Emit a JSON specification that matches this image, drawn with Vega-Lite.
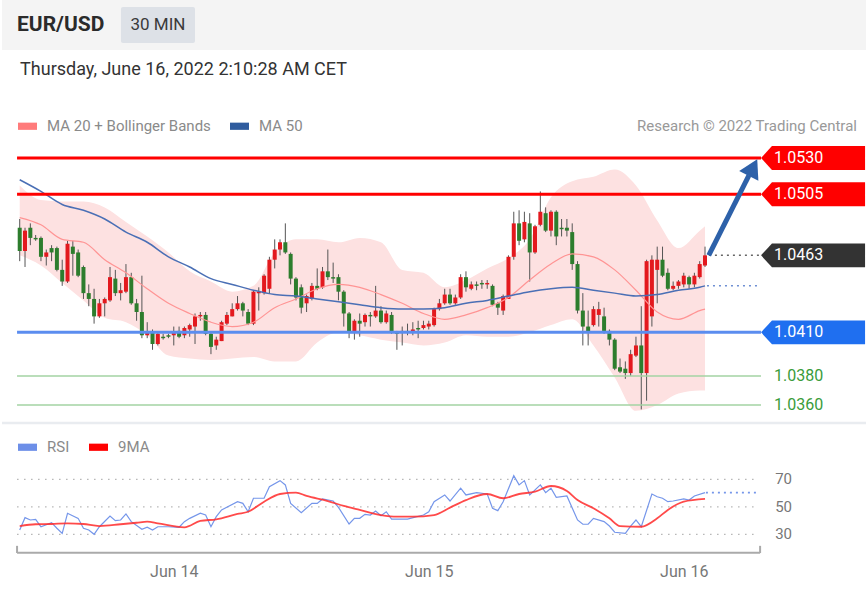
{
  "$schema": "https://vega.github.io/schema/vega-lite/v6.json",
  "padding": 0,
  "spacing": 0,
  "background": "#ffffff",
  "resolve": {"scale": {"fill": "independent"}, "legend": {"fill": "independent"}},
  "config": {
    "font": "Roboto",
    "view": {"stroke": null},
    "scale": {"continuousPadding": 0},
    "legend": {"orient": "none", "direction": "horizontal", "title": null, "symbolType": "M-1,-0.38H1V0.38H-1Z", "symbolSize": 361, "symbolStrokeWidth": 0, "labelFontSize": 15, "labelColor": "#8a8a8a", "labelFont": "Roboto", "labelOffset": 10, "labelLimit": 0, "columnPadding": 19, "padding": 0, "symbolOpacity": 1}
  },
  "datasets": {
    "candles": [
      {"t":"2022-06-13T09:30Z","o":1.0482,"h":1.0488,"l":1.0459,"c":1.0466},
      {"t":"2022-06-13T10:00Z","o":1.0466,"h":1.0482,"l":1.0455,"c":1.0480},
      {"t":"2022-06-13T10:30Z","o":1.0482,"h":1.0485,"l":1.0470,"c":1.0475},
      {"t":"2022-06-13T11:00Z","o":1.0475,"h":1.0477,"l":1.0473,"c":1.0474},
      {"t":"2022-06-13T11:30Z","o":1.0475,"h":1.0476,"l":1.0459,"c":1.0462},
      {"t":"2022-06-13T12:00Z","o":1.0462,"h":1.0467,"l":1.0456,"c":1.0465},
      {"t":"2022-06-13T12:30Z","o":1.0468,"h":1.0470,"l":1.0459,"c":1.0465},
      {"t":"2022-06-13T13:00Z","o":1.0468,"h":1.0469,"l":1.0452,"c":1.0453},
      {"t":"2022-06-13T13:30Z","o":1.0453,"h":1.0460,"l":1.0442,"c":1.0445},
      {"t":"2022-06-13T14:00Z","o":1.0445,"h":1.0473,"l":1.0444,"c":1.0471},
      {"t":"2022-06-13T14:30Z","o":1.0469,"h":1.0473,"l":1.0449,"c":1.0464},
      {"t":"2022-06-13T15:00Z","o":1.0465,"h":1.0467,"l":1.0448,"c":1.0449},
      {"t":"2022-06-13T15:30Z","o":1.0455,"h":1.0456,"l":1.0433,"c":1.0437},
      {"t":"2022-06-13T16:00Z","o":1.0437,"h":1.0443,"l":1.0428,"c":1.0433},
      {"t":"2022-06-13T16:30Z","o":1.0433,"h":1.0440,"l":1.0416,"c":1.0421},
      {"t":"2022-06-13T17:00Z","o":1.0421,"h":1.0433,"l":1.0420,"c":1.0430},
      {"t":"2022-06-13T17:30Z","o":1.0430,"h":1.0434,"l":1.0421,"c":1.0433},
      {"t":"2022-06-13T18:00Z","o":1.0432,"h":1.0455,"l":1.0431,"c":1.0448},
      {"t":"2022-06-13T18:30Z","o":1.0447,"h":1.0453,"l":1.0435,"c":1.0437},
      {"t":"2022-06-13T19:00Z","o":1.0437,"h":1.0444,"l":1.0432,"c":1.0439},
      {"t":"2022-06-13T19:30Z","o":1.0438,"h":1.0457,"l":1.0437,"c":1.0448},
      {"t":"2022-06-13T20:00Z","o":1.0448,"h":1.0451,"l":1.0429,"c":1.0430},
      {"t":"2022-06-13T20:30Z","o":1.0430,"h":1.0433,"l":1.0418,"c":1.0424},
      {"t":"2022-06-13T21:00Z","o":1.0424,"h":1.0449,"l":1.0406,"c":1.0408},
      {"t":"2022-06-13T21:30Z","o":1.0408,"h":1.0417,"l":1.0406,"c":1.0410},
      {"t":"2022-06-13T22:00Z","o":1.0410,"h":1.0412,"l":1.0398,"c":1.0402},
      {"t":"2022-06-13T22:30Z","o":1.0402,"h":1.0410,"l":1.0401,"c":1.0409},
      {"t":"2022-06-13T23:00Z","o":1.0407,"h":1.0409,"l":1.0405,"c":1.0406},
      {"t":"2022-06-13T23:30Z","o":1.0408,"h":1.0409,"l":1.0406,"c":1.0407},
      {"t":"2022-06-14T00:00Z","o":1.0408,"h":1.0414,"l":1.0401,"c":1.0410},
      {"t":"2022-06-14T00:30Z","o":1.0411,"h":1.0414,"l":1.0406,"c":1.0407},
      {"t":"2022-06-14T01:00Z","o":1.0408,"h":1.0414,"l":1.0406,"c":1.0413},
      {"t":"2022-06-14T01:30Z","o":1.0412,"h":1.0416,"l":1.0407,"c":1.0415},
      {"t":"2022-06-14T02:00Z","o":1.0414,"h":1.0423,"l":1.0402,"c":1.0421},
      {"t":"2022-06-14T02:30Z","o":1.0421,"h":1.0424,"l":1.0418,"c":1.0422},
      {"t":"2022-06-14T03:00Z","o":1.0422,"h":1.0424,"l":1.0408,"c":1.0409},
      {"t":"2022-06-14T03:30Z","o":1.0409,"h":1.0410,"l":1.0395,"c":1.0400},
      {"t":"2022-06-14T04:00Z","o":1.0401,"h":1.0407,"l":1.0398,"c":1.0405},
      {"t":"2022-06-14T04:30Z","o":1.0404,"h":1.0418,"l":1.0404,"c":1.0417},
      {"t":"2022-06-14T05:00Z","o":1.0416,"h":1.0424,"l":1.0415,"c":1.0422},
      {"t":"2022-06-14T05:30Z","o":1.0421,"h":1.0430,"l":1.0421,"c":1.0426},
      {"t":"2022-06-14T06:00Z","o":1.0426,"h":1.0435,"l":1.0425,"c":1.0430},
      {"t":"2022-06-14T06:30Z","o":1.0430,"h":1.0431,"l":1.0421,"c":1.0425},
      {"t":"2022-06-14T07:00Z","o":1.0424,"h":1.0426,"l":1.0415,"c":1.0416},
      {"t":"2022-06-14T07:30Z","o":1.0416,"h":1.0439,"l":1.0415,"c":1.0438},
      {"t":"2022-06-14T08:00Z","o":1.0437,"h":1.0441,"l":1.0425,"c":1.0438},
      {"t":"2022-06-14T08:30Z","o":1.0437,"h":1.0450,"l":1.0436,"c":1.0449},
      {"t":"2022-06-14T09:00Z","o":1.0440,"h":1.0462,"l":1.0437,"c":1.0460},
      {"t":"2022-06-14T09:30Z","o":1.0460,"h":1.0474,"l":1.0454,"c":1.0467},
      {"t":"2022-06-14T10:00Z","o":1.0467,"h":1.0474,"l":1.0463,"c":1.0472},
      {"t":"2022-06-14T10:30Z","o":1.0472,"h":1.0485,"l":1.0464,"c":1.0465},
      {"t":"2022-06-14T11:00Z","o":1.0464,"h":1.0465,"l":1.0443,"c":1.0447},
      {"t":"2022-06-14T11:30Z","o":1.0447,"h":1.0448,"l":1.0432,"c":1.0434},
      {"t":"2022-06-14T12:00Z","o":1.0441,"h":1.0443,"l":1.0423,"c":1.0427},
      {"t":"2022-06-14T12:30Z","o":1.0430,"h":1.0436,"l":1.0424,"c":1.0435},
      {"t":"2022-06-14T13:00Z","o":1.0433,"h":1.0444,"l":1.0432,"c":1.0442},
      {"t":"2022-06-14T13:30Z","o":1.0442,"h":1.0454,"l":1.0439,"c":1.0440},
      {"t":"2022-06-14T14:00Z","o":1.0441,"h":1.0455,"l":1.0440,"c":1.0452},
      {"t":"2022-06-14T14:30Z","o":1.0452,"h":1.0467,"l":1.0446,"c":1.0448},
      {"t":"2022-06-14T15:00Z","o":1.0448,"h":1.0458,"l":1.0444,"c":1.0447},
      {"t":"2022-06-14T15:30Z","o":1.0448,"h":1.0450,"l":1.0432,"c":1.0438},
      {"t":"2022-06-14T16:00Z","o":1.0438,"h":1.0439,"l":1.0414,"c":1.0423},
      {"t":"2022-06-14T16:30Z","o":1.0423,"h":1.0424,"l":1.0406,"c":1.0410},
      {"t":"2022-06-14T17:00Z","o":1.0410,"h":1.0419,"l":1.0405,"c":1.0418},
      {"t":"2022-06-14T17:30Z","o":1.0418,"h":1.0423,"l":1.0407,"c":1.0416},
      {"t":"2022-06-14T18:00Z","o":1.0417,"h":1.0423,"l":1.0414,"c":1.0422},
      {"t":"2022-06-14T18:30Z","o":1.0422,"h":1.0424,"l":1.0414,"c":1.0421},
      {"t":"2022-06-14T19:00Z","o":1.0421,"h":1.0442,"l":1.0420,"c":1.0425},
      {"t":"2022-06-14T19:30Z","o":1.0425,"h":1.0428,"l":1.0416,"c":1.0417},
      {"t":"2022-06-14T20:00Z","o":1.0417,"h":1.0425,"l":1.0416,"c":1.0423},
      {"t":"2022-06-14T20:30Z","o":1.0422,"h":1.0424,"l":1.0409,"c":1.0410},
      {"t":"2022-06-14T21:00Z","o":1.0410,"h":1.0411,"l":1.0398,"c":1.0409},
      {"t":"2022-06-14T21:30Z","o":1.0410,"h":1.0414,"l":1.0401,"c":1.0411},
      {"t":"2022-06-14T22:00Z","o":1.0411,"h":1.0416,"l":1.0408,"c":1.0410},
      {"t":"2022-06-14T22:30Z","o":1.0410,"h":1.0417,"l":1.0408,"c":1.0412},
      {"t":"2022-06-14T23:00Z","o":1.0413,"h":1.0418,"l":1.0406,"c":1.0412},
      {"t":"2022-06-14T23:30Z","o":1.0413,"h":1.0418,"l":1.0412,"c":1.0415},
      {"t":"2022-06-15T00:00Z","o":1.0414,"h":1.0418,"l":1.0412,"c":1.0416},
      {"t":"2022-06-15T00:30Z","o":1.0415,"h":1.0427,"l":1.0414,"c":1.0426},
      {"t":"2022-06-15T01:00Z","o":1.0426,"h":1.0433,"l":1.0425,"c":1.0430},
      {"t":"2022-06-15T01:30Z","o":1.0430,"h":1.0440,"l":1.0429,"c":1.0436},
      {"t":"2022-06-15T02:00Z","o":1.0436,"h":1.0440,"l":1.0429,"c":1.0430},
      {"t":"2022-06-15T02:30Z","o":1.0430,"h":1.0436,"l":1.0429,"c":1.0434},
      {"t":"2022-06-15T03:00Z","o":1.0434,"h":1.0450,"l":1.0433,"c":1.0448},
      {"t":"2022-06-15T03:30Z","o":1.0448,"h":1.0452,"l":1.0438,"c":1.0441},
      {"t":"2022-06-15T04:00Z","o":1.0440,"h":1.0445,"l":1.0439,"c":1.0443},
      {"t":"2022-06-15T04:30Z","o":1.0443,"h":1.0445,"l":1.0439,"c":1.0442},
      {"t":"2022-06-15T05:00Z","o":1.0444,"h":1.0446,"l":1.0440,"c":1.0443},
      {"t":"2022-06-15T05:30Z","o":1.0443,"h":1.0446,"l":1.0440,"c":1.0444},
      {"t":"2022-06-15T06:00Z","o":1.0442,"h":1.0443,"l":1.0428,"c":1.0429},
      {"t":"2022-06-15T06:30Z","o":1.0430,"h":1.0431,"l":1.0422,"c":1.0427},
      {"t":"2022-06-15T07:00Z","o":1.0425,"h":1.0436,"l":1.0422,"c":1.0435},
      {"t":"2022-06-15T07:30Z","o":1.0433,"h":1.0463,"l":1.0433,"c":1.0462},
      {"t":"2022-06-15T08:00Z","o":1.0462,"h":1.0493,"l":1.0460,"c":1.0485},
      {"t":"2022-06-15T08:30Z","o":1.0485,"h":1.0494,"l":1.0470,"c":1.0473},
      {"t":"2022-06-15T09:00Z","o":1.0474,"h":1.0493,"l":1.0472,"c":1.0486},
      {"t":"2022-06-15T09:30Z","o":1.0485,"h":1.0492,"l":1.0445,"c":1.0465},
      {"t":"2022-06-15T10:00Z","o":1.0465,"h":1.0484,"l":1.0464,"c":1.0483},
      {"t":"2022-06-15T10:30Z","o":1.0484,"h":1.0507,"l":1.0483,"c":1.0493},
      {"t":"2022-06-15T11:00Z","o":1.0492,"h":1.0496,"l":1.0479,"c":1.0480},
      {"t":"2022-06-15T11:30Z","o":1.0480,"h":1.0494,"l":1.0476,"c":1.0493},
      {"t":"2022-06-15T12:00Z","o":1.0493,"h":1.0494,"l":1.0470,"c":1.0476},
      {"t":"2022-06-15T12:30Z","o":1.0482,"h":1.0488,"l":1.0476,"c":1.0481},
      {"t":"2022-06-15T13:00Z","o":1.0482,"h":1.0488,"l":1.0476,"c":1.0480},
      {"t":"2022-06-15T13:30Z","o":1.0479,"h":1.0485,"l":1.0453,"c":1.0457},
      {"t":"2022-06-15T14:00Z","o":1.0457,"h":1.0459,"l":1.0423,"c":1.0425},
      {"t":"2022-06-15T14:30Z","o":1.0425,"h":1.0437,"l":1.0401,"c":1.0414},
      {"t":"2022-06-15T15:00Z","o":1.0414,"h":1.0425,"l":1.0401,"c":1.0410},
      {"t":"2022-06-15T15:30Z","o":1.0415,"h":1.0428,"l":1.0414,"c":1.0426},
      {"t":"2022-06-15T16:00Z","o":1.0422,"h":1.0431,"l":1.0414,"c":1.0426},
      {"t":"2022-06-15T16:30Z","o":1.0421,"h":1.0427,"l":1.0409,"c":1.0411},
      {"t":"2022-06-15T17:00Z","o":1.0411,"h":1.0412,"l":1.0401,"c":1.0405},
      {"t":"2022-06-15T17:30Z","o":1.0405,"h":1.0406,"l":1.0384,"c":1.0385},
      {"t":"2022-06-15T18:00Z","o":1.0386,"h":1.0392,"l":1.0382,"c":1.0383},
      {"t":"2022-06-15T18:30Z","o":1.0385,"h":1.0390,"l":1.0378,"c":1.0382},
      {"t":"2022-06-15T19:00Z","o":1.0382,"h":1.0398,"l":1.0380,"c":1.0395},
      {"t":"2022-06-15T19:30Z","o":1.0394,"h":1.0407,"l":1.0393,"c":1.0401},
      {"t":"2022-06-15T20:00Z","o":1.0401,"h":1.0428,"l":1.0357,"c":1.0382},
      {"t":"2022-06-15T20:30Z","o":1.0382,"h":1.0460,"l":1.0363,"c":1.0459},
      {"t":"2022-06-15T21:00Z","o":1.0421,"h":1.0463,"l":1.0414,"c":1.0460},
      {"t":"2022-06-15T21:30Z","o":1.0453,"h":1.0469,"l":1.0430,"c":1.0460},
      {"t":"2022-06-15T22:00Z","o":1.0460,"h":1.0469,"l":1.0448,"c":1.0449},
      {"t":"2022-06-15T22:30Z","o":1.0451,"h":1.0454,"l":1.0439,"c":1.0440},
      {"t":"2022-06-15T23:00Z","o":1.0440,"h":1.0445,"l":1.0439,"c":1.0442},
      {"t":"2022-06-15T23:30Z","o":1.0442,"h":1.0446,"l":1.0440,"c":1.0445},
      {"t":"2022-06-16T00:00Z","o":1.0443,"h":1.0451,"l":1.0441,"c":1.0449},
      {"t":"2022-06-16T00:30Z","o":1.0448,"h":1.0449,"l":1.0440,"c":1.0443},
      {"t":"2022-06-16T01:00Z","o":1.0443,"h":1.0451,"l":1.0441,"c":1.0449},
      {"t":"2022-06-16T01:30Z","o":1.0448,"h":1.0459,"l":1.0447,"c":1.0457},
      {"t":"2022-06-16T02:00Z","o":1.0456,"h":1.0469,"l":1.0455,"c":1.0463}
    ],
    "bands": [
      {"t":"2022-06-13T09:30Z","up":1.0511,"mid":1.0489,"lo":1.0463,"ma50":1.0515},
      {"t":"2022-06-13T11:30Z","up":1.0501,"mid":1.0484,"lo":1.0456,"ma50":1.0507},
      {"t":"2022-06-13T13:30Z","up":1.0500,"mid":1.0474,"lo":1.0444,"ma50":1.0498},
      {"t":"2022-06-13T15:30Z","up":1.0500,"mid":1.0472,"lo":1.0432,"ma50":1.0494},
      {"t":"2022-06-13T17:30Z","up":1.0496,"mid":1.0460,"lo":1.0420,"ma50":1.0488},
      {"t":"2022-06-13T19:30Z","up":1.0486,"mid":1.0451,"lo":1.0417,"ma50":1.0479},
      {"t":"2022-06-13T21:30Z","up":1.0476,"mid":1.0440,"lo":1.0408,"ma50":1.0472},
      {"t":"2022-06-13T23:30Z","up":1.0465,"mid":1.0430,"lo":1.0394,"ma50":1.0462},
      {"t":"2022-06-14T01:30Z","up":1.0452,"mid":1.0423,"lo":1.0392,"ma50":1.0455},
      {"t":"2022-06-14T03:30Z","up":1.0445,"mid":1.0417,"lo":1.0391,"ma50":1.0447},
      {"t":"2022-06-14T05:30Z","up":1.0438,"mid":1.0414,"lo":1.0392,"ma50":1.0443},
      {"t":"2022-06-14T07:30Z","up":1.0442,"mid":1.0417,"lo":1.0393,"ma50":1.0439},
      {"t":"2022-06-14T09:30Z","up":1.0465,"mid":1.0427,"lo":1.0390,"ma50":1.0436},
      {"t":"2022-06-14T11:30Z","up":1.0474,"mid":1.0433,"lo":1.0390,"ma50":1.0435},
      {"t":"2022-06-14T13:30Z","up":1.0474,"mid":1.0440,"lo":1.0403,"ma50":1.0433},
      {"t":"2022-06-14T15:30Z","up":1.0472,"mid":1.0443,"lo":1.0410,"ma50":1.0431},
      {"t":"2022-06-14T17:30Z","up":1.0475,"mid":1.0441,"lo":1.0408,"ma50":1.0429},
      {"t":"2022-06-14T19:30Z","up":1.0472,"mid":1.0436,"lo":1.0405,"ma50":1.0427},
      {"t":"2022-06-14T21:30Z","up":1.0453,"mid":1.0430,"lo":1.0403,"ma50":1.0426},
      {"t":"2022-06-14T23:30Z","up":1.0451,"mid":1.0423,"lo":1.0401,"ma50":1.0426},
      {"t":"2022-06-15T01:30Z","up":1.0441,"mid":1.0419,"lo":1.0403,"ma50":1.0427},
      {"t":"2022-06-15T03:30Z","up":1.0446,"mid":1.0422,"lo":1.0408,"ma50":1.0430},
      {"t":"2022-06-15T05:30Z","up":1.0454,"mid":1.0427,"lo":1.0407,"ma50":1.0432},
      {"t":"2022-06-15T07:30Z","up":1.0461,"mid":1.0434,"lo":1.0407,"ma50":1.0435},
      {"t":"2022-06-15T09:30Z","up":1.0474,"mid":1.0446,"lo":1.0410,"ma50":1.0438},
      {"t":"2022-06-15T11:30Z","up":1.0503,"mid":1.0457,"lo":1.0415,"ma50":1.0440},
      {"t":"2022-06-15T13:30Z","up":1.0514,"mid":1.0464,"lo":1.0419,"ma50":1.0441},
      {"t":"2022-06-15T15:30Z","up":1.0517,"mid":1.0462,"lo":1.0401,"ma50":1.0439},
      {"t":"2022-06-15T17:30Z","up":1.0522,"mid":1.0453,"lo":1.0379,"ma50":1.0437},
      {"t":"2022-06-15T19:30Z","up":1.0511,"mid":1.0439,"lo":1.0356,"ma50":1.0435},
      {"t":"2022-06-15T21:30Z","up":1.0487,"mid":1.0424,"lo":1.0360,"ma50":1.0436},
      {"t":"2022-06-15T23:30Z","up":1.0468,"mid":1.0419,"lo":1.0368,"ma50":1.0439},
      {"t":"2022-06-16T01:30Z","up":1.0480,"mid":1.0425,"lo":1.0370,"ma50":1.0441},
      {"t":"2022-06-16T02:00Z","up":1.0483,"mid":1.0426,"lo":1.0370,"ma50":1.0442}
    ],
    "levels": [
      {"v":1.0530,"label":"1.0530","kind":"res"},
      {"v":1.0505,"label":"1.0505","kind":"res"},
      {"v":1.0463,"label":"1.0463","kind":"last"},
      {"v":1.0410,"label":"1.0410","kind":"pivot"},
      {"v":1.0380,"label":"1.0380","kind":"sup"},
      {"v":1.0360,"label":"1.0360","kind":"sup"}
    ],
    "rsi": [
      {"t":"2022-06-13T09:30Z","v":33.1},{"t":"2022-06-13T10:00Z","v":42.1},{"t":"2022-06-13T10:30Z","v":40.4},{"t":"2022-06-13T11:00Z","v":40.9},
      {"t":"2022-06-13T11:30Z","v":35.5},{"t":"2022-06-13T12:30Z","v":38.5},{"t":"2022-06-13T13:00Z","v":34.4},{"t":"2022-06-13T13:30Z","v":30.7},
      {"t":"2022-06-13T14:00Z","v":45.3},{"t":"2022-06-13T15:00Z","v":41.6},{"t":"2022-06-13T15:30Z","v":34.4},{"t":"2022-06-13T16:00Z","v":33.1},
      {"t":"2022-06-13T16:30Z","v":30.0},{"t":"2022-06-13T17:00Z","v":35.5},{"t":"2022-06-13T18:00Z","v":43.3},{"t":"2022-06-13T18:30Z","v":39.9},
      {"t":"2022-06-13T19:00Z","v":40.4},{"t":"2022-06-13T19:30Z","v":44.8},{"t":"2022-06-13T20:00Z","v":39.2},{"t":"2022-06-13T21:00Z","v":33.6},
      {"t":"2022-06-13T21:30Z","v":35.1},{"t":"2022-06-13T22:00Z","v":33.1},{"t":"2022-06-13T22:30Z","v":35.5},{"t":"2022-06-13T23:30Z","v":35.5},
      {"t":"2022-06-14T00:30Z","v":35.1},{"t":"2022-06-14T01:00Z","v":39.2},{"t":"2022-06-14T01:30Z","v":41.6},{"t":"2022-06-14T02:30Z","v":45.3},
      {"t":"2022-06-14T03:00Z","v":44.0},{"t":"2022-06-14T03:30Z","v":35.5},{"t":"2022-06-14T04:00Z","v":42.8},{"t":"2022-06-14T04:30Z","v":47.7},
      {"t":"2022-06-14T06:00Z","v":53.7},{"t":"2022-06-14T06:30Z","v":52.5},{"t":"2022-06-14T07:00Z","v":46.4},{"t":"2022-06-14T07:30Z","v":56.2},
      {"t":"2022-06-14T08:30Z","v":56.2},{"t":"2022-06-14T09:00Z","v":64.6},{"t":"2022-06-14T10:00Z","v":69.0},{"t":"2022-06-14T10:30Z","v":65.9},
      {"t":"2022-06-14T11:00Z","v":52.5},{"t":"2022-06-14T12:00Z","v":45.7},{"t":"2022-06-14T13:00Z","v":52.5},{"t":"2022-06-14T13:30Z","v":52.5},
      {"t":"2022-06-14T14:00Z","v":55.7},{"t":"2022-06-14T15:00Z","v":54.2},{"t":"2022-06-14T15:30Z","v":49.6},{"t":"2022-06-14T16:30Z","v":37.5},
      {"t":"2022-06-14T17:00Z","v":41.6},{"t":"2022-06-14T17:30Z","v":41.6},{"t":"2022-06-14T18:00Z","v":44.5},{"t":"2022-06-14T18:30Z","v":44.0},
      {"t":"2022-06-14T19:00Z","v":46.9},{"t":"2022-06-14T19:30Z","v":43.5},{"t":"2022-06-14T20:00Z","v":46.4},{"t":"2022-06-14T20:30Z","v":41.1},
      {"t":"2022-06-14T22:00Z","v":41.1},{"t":"2022-06-14T23:30Z","v":44.0},{"t":"2022-06-15T00:00Z","v":46.4},{"t":"2022-06-15T00:30Z","v":53.7},
      {"t":"2022-06-15T01:30Z","v":58.6},{"t":"2022-06-15T02:00Z","v":54.2},{"t":"2022-06-15T03:00Z","v":63.5},{"t":"2022-06-15T03:30Z","v":58.6},
      {"t":"2022-06-15T04:30Z","v":60.3},{"t":"2022-06-15T05:30Z","v":59.3},{"t":"2022-06-15T06:00Z","v":48.9},{"t":"2022-06-15T06:30Z","v":47.2},
      {"t":"2022-06-15T07:00Z","v":53.7},{"t":"2022-06-15T08:00Z","v":72.6},{"t":"2022-06-15T08:30Z","v":65.9},{"t":"2022-06-15T09:00Z","v":69.0},
      {"t":"2022-06-15T09:30Z","v":58.6},{"t":"2022-06-15T10:30Z","v":65.9},{"t":"2022-06-15T11:00Z","v":60.3},{"t":"2022-06-15T11:30Z","v":63.5},
      {"t":"2022-06-15T12:00Z","v":56.9},{"t":"2022-06-15T13:00Z","v":57.9},{"t":"2022-06-15T14:00Z","v":40.4},{"t":"2022-06-15T14:30Z","v":37.3},
      {"t":"2022-06-15T15:00Z","v":37.3},{"t":"2022-06-15T15:30Z","v":41.6},{"t":"2022-06-15T16:30Z","v":39.2},{"t":"2022-06-15T17:00Z","v":36.0},
      {"t":"2022-06-15T17:30Z","v":31.5},{"t":"2022-06-15T18:30Z","v":30.7},{"t":"2022-06-15T19:00Z","v":36.0},{"t":"2022-06-15T19:30Z","v":40.4},
      {"t":"2022-06-15T20:00Z","v":35.5},{"t":"2022-06-15T21:00Z","v":59.3},{"t":"2022-06-15T21:30Z","v":57.3},{"t":"2022-06-15T22:00Z","v":56.2},
      {"t":"2022-06-15T22:30Z","v":53.7},{"t":"2022-06-15T23:00Z","v":54.2},{"t":"2022-06-16T00:00Z","v":55.7},{"t":"2022-06-16T00:30Z","v":54.9},
      {"t":"2022-06-16T01:00Z","v":57.9},{"t":"2022-06-16T02:00Z","v":60.3}
    ],
    "rsima": [
      {"t":"2022-06-13T09:30Z","v":36.0},{"t":"2022-06-13T11:00Z","v":37.3},{"t":"2022-06-13T12:30Z","v":37.5},{"t":"2022-06-13T14:00Z","v":38.0},
      {"t":"2022-06-13T15:30Z","v":37.5},{"t":"2022-06-13T17:00Z","v":36.0},{"t":"2022-06-13T19:00Z","v":37.3},{"t":"2022-06-13T20:30Z","v":38.4},
      {"t":"2022-06-13T21:30Z","v":39.2},{"t":"2022-06-13T22:30Z","v":38.0},{"t":"2022-06-14T01:00Z","v":35.1},{"t":"2022-06-14T02:30Z","v":39.7},
      {"t":"2022-06-14T04:00Z","v":40.9},{"t":"2022-06-14T06:00Z","v":44.8},{"t":"2022-06-14T07:00Z","v":46.4},{"t":"2022-06-14T08:30Z","v":53.7},
      {"t":"2022-06-14T10:00Z","v":59.3},{"t":"2022-06-14T11:30Z","v":60.3},{"t":"2022-06-14T12:30Z","v":57.9},{"t":"2022-06-14T14:30Z","v":54.2},
      {"t":"2022-06-14T16:00Z","v":50.6},{"t":"2022-06-14T17:30Z","v":47.7},{"t":"2022-06-14T19:30Z","v":44.0},{"t":"2022-06-14T21:00Z","v":42.8},
      {"t":"2022-06-14T22:30Z","v":42.8},{"t":"2022-06-15T00:30Z","v":44.0},{"t":"2022-06-15T02:00Z","v":49.4},{"t":"2022-06-15T03:30Z","v":54.9},
      {"t":"2022-06-15T05:30Z","v":59.3},{"t":"2022-06-15T07:00Z","v":56.2},{"t":"2022-06-15T08:30Z","v":59.3},{"t":"2022-06-15T10:00Z","v":61.0},
      {"t":"2022-06-15T11:30Z","v":65.1},{"t":"2022-06-15T13:00Z","v":61.5},{"t":"2022-06-15T14:00Z","v":54.9},{"t":"2022-06-15T15:30Z","v":48.9},
      {"t":"2022-06-15T17:00Z","v":41.6},{"t":"2022-06-15T18:00Z","v":36.0},{"t":"2022-06-15T20:00Z","v":35.5},{"t":"2022-06-15T21:30Z","v":41.6},
      {"t":"2022-06-15T22:30Z","v":47.7},{"t":"2022-06-16T00:00Z","v":53.7},{"t":"2022-06-16T02:00Z","v":55.7}
    ]
  },
  "vconcat": [
    {
      "width": 866,
      "height": 50,
      "view": {"fill": "#f4f4f4", "stroke": null},
      "data": {"values": [{"item": "EUR/USD"}, {"item": "30 MIN"}]},
      "encoding": {
        "x": {"field": "item", "type": "nominal", "scale": {"type": "band", "domain": ["EUR/USD", "30 MIN"], "range": [15, 193], "paddingInner": 0.288, "paddingOuter": 0}, "axis": null},
        "y": {"datum": "head", "type": "nominal", "scale": {"type": "band", "domain": ["head"], "range": [7, 43], "paddingInner": 0, "paddingOuter": 0}, "axis": null}
      },
      "layer": [
        {"transform": [{"filter": "datum.item === '30 MIN'"}], "mark": {"type": "rect", "fill": "#dde1e7", "cornerRadius": 2}},
        {"transform": [{"filter": "datum.item === 'EUR/USD'"}], "mark": {"type": "text", "align": "left", "baseline": "middle", "fontSize": 21, "fontWeight": "bold", "fill": "#2b2b2b"},
         "encoding": {"x": {"field": "item", "type": "nominal", "bandPosition": 0, "scale": {"type": "band", "domain": ["EUR/USD", "30 MIN"], "range": [15, 193], "paddingInner": 0.288, "paddingOuter": 0}, "axis": null}, "text": {"field": "item"}}},
        {"transform": [{"filter": "datum.item === '30 MIN'"}], "mark": {"type": "text", "align": "center", "baseline": "middle", "fontSize": 17, "fill": "#3a3a3a"},
         "encoding": {"text": {"field": "item"}}}
      ]
    },
    {
      "width": 866,
      "height": 370,
      "layer": [
        {"data": {"name": "bands"}, "mark": {"type": "area", "color": "#fde1e1", "interpolate": "monotone"},
         "encoding": {
           "x": {"field": "t", "type": "temporal", "scale": {"domain": [{"year":2022,"month":6,"date":13,"hours":7,"minutes":50,"utc":true},{"year":2022,"month":6,"date":16,"hours":17,"minutes":20,"seconds":20,"utc":true}], "padding": 0}, "axis": null},
           "y": {"field": "up", "type": "quantitative", "scale": {"domain": [1.03497, 1.06043], "nice": false, "zero": false, "padding": 0}, "axis": null},
           "y2": {"field": "lo"}}},
        {"data": {"name": "candles"}, "mark": {"type": "rule", "color": "#555555", "strokeWidth": 1},
         "encoding": {
           "x": {"field": "t", "type": "temporal", "scale": {"domain": [{"year":2022,"month":6,"date":13,"hours":7,"minutes":50,"utc":true},{"year":2022,"month":6,"date":16,"hours":17,"minutes":20,"seconds":20,"utc":true}], "padding": 0}, "axis": null},
           "y": {"field": "l", "type": "quantitative", "scale": {"domain": [1.03497, 1.06043], "nice": false, "zero": false, "padding": 0}, "axis": null},
           "y2": {"field": "h"}}},
        {"data": {"name": "candles"}, "mark": {"type": "bar", "size": 4},
         "encoding": {
           "x": {"field": "t", "type": "temporal", "scale": {"domain": [{"year":2022,"month":6,"date":13,"hours":7,"minutes":50,"utc":true},{"year":2022,"month":6,"date":16,"hours":17,"minutes":20,"seconds":20,"utc":true}], "padding": 0}, "axis": null},
           "y": {"field": "o", "type": "quantitative", "scale": {"domain": [1.03497, 1.06043], "nice": false, "zero": false, "padding": 0}, "axis": null},
           "y2": {"field": "c"},
           "color": {"condition": {"test": "datum.c > datum.o", "value": "#e3191e"}, "value": "#2d7d2d"}}},
        {"data": {"name": "bands"}, "mark": {"type": "line", "color": "#ff9494", "strokeWidth": 1.2, "interpolate": "monotone"},
         "encoding": {
           "x": {"field": "t", "type": "temporal", "scale": {"domain": [{"year":2022,"month":6,"date":13,"hours":7,"minutes":50,"utc":true},{"year":2022,"month":6,"date":16,"hours":17,"minutes":20,"seconds":20,"utc":true}], "padding": 0}, "axis": null},
           "y": {"field": "mid", "type": "quantitative", "scale": {"domain": [1.03497, 1.06043], "nice": false, "zero": false, "padding": 0}, "axis": null}}},
        {"data": {"name": "bands"}, "mark": {"type": "line", "color": "#4a6fb5", "strokeWidth": 1.5, "interpolate": "monotone"},
         "encoding": {
           "x": {"field": "t", "type": "temporal", "scale": {"domain": [{"year":2022,"month":6,"date":13,"hours":7,"minutes":50,"utc":true},{"year":2022,"month":6,"date":16,"hours":17,"minutes":20,"seconds":20,"utc":true}], "padding": 0}, "axis": null},
           "y": {"field": "ma50", "type": "quantitative", "scale": {"domain": [1.03497, 1.06043], "nice": false, "zero": false, "padding": 0}, "axis": null}}},
        {"data": {"name": "levels"}, "transform": [{"filter": "datum.kind !== 'last'"}], "mark": {"type": "rule"},
         "encoding": {
           "x": {"datum": {"year":2022,"month":6,"date":13,"hours":9,"minutes":15,"utc":true}, "type": "temporal", "scale": {"domain": [{"year":2022,"month":6,"date":13,"hours":7,"minutes":50,"utc":true},{"year":2022,"month":6,"date":16,"hours":17,"minutes":20,"seconds":20,"utc":true}], "padding": 0}, "axis": null},
           "x2": {"datum": {"year":2022,"month":6,"date":16,"hours":7,"minutes":16,"utc":true}},
           "y": {"field": "v", "type": "quantitative", "scale": {"domain": [1.03497, 1.06043], "nice": false, "zero": false, "padding": 0}, "axis": null},
           "color": {"condition": [{"test": "datum.kind === 'res'", "value": "#ff0000"}, {"test": "datum.kind === 'pivot'", "value": "#5b8def"}], "value": "#a3d3a3"},
           "strokeWidth": {"condition": [{"test": "datum.kind === 'res'", "value": 3}, {"test": "datum.kind === 'pivot'", "value": 3}], "value": 1.6}}},
        {"data": {"name": "levels"}, "transform": [{"filter": "datum.kind === 'last'"}], "mark": {"type": "rule", "color": "#666666", "strokeWidth": 1.5, "strokeDash": [2, 4]},
         "encoding": {
           "x": {"datum": {"year":2022,"month":6,"date":16,"hours":2,"minutes":22,"utc":true}, "type": "temporal", "scale": {"domain": [{"year":2022,"month":6,"date":13,"hours":7,"minutes":50,"utc":true},{"year":2022,"month":6,"date":16,"hours":17,"minutes":20,"seconds":20,"utc":true}], "padding": 0}, "axis": null},
           "x2": {"datum": {"year":2022,"month":6,"date":16,"hours":7,"minutes":5,"utc":true}},
           "y": {"field": "v", "type": "quantitative", "scale": {"domain": [1.03497, 1.06043], "nice": false, "zero": false, "padding": 0}, "axis": null}}},
        {"data": {"name": "bands"}, "transform": [{"filter": "datum.ma50 === 1.0442"}], "mark": {"type": "rule", "color": "#6f8fd3", "strokeWidth": 1.5, "strokeDash": [2, 4]},
         "encoding": {
           "x": {"datum": {"year":2022,"month":6,"date":16,"hours":2,"minutes":11,"utc":true}, "type": "temporal", "scale": {"domain": [{"year":2022,"month":6,"date":13,"hours":7,"minutes":50,"utc":true},{"year":2022,"month":6,"date":16,"hours":17,"minutes":20,"seconds":20,"utc":true}], "padding": 0}, "axis": null},
           "x2": {"datum": {"year":2022,"month":6,"date":16,"hours":7,"minutes":5,"utc":true}},
           "y": {"field": "ma50", "type": "quantitative", "scale": {"domain": [1.03497, 1.06043], "nice": false, "zero": false, "padding": 0}, "axis": null}}},
        {"data": {"values": [{}]}, "mark": {"type": "rule", "color": "#2d61a9", "strokeWidth": 5},
         "encoding": {
           "x": {"datum": {"year":2022,"month":6,"date":16,"hours":2,"minutes":21,"utc":true}, "type": "temporal", "scale": {"domain": [{"year":2022,"month":6,"date":13,"hours":7,"minutes":50,"utc":true},{"year":2022,"month":6,"date":16,"hours":17,"minutes":20,"seconds":20,"utc":true}], "padding": 0}, "axis": null},
           "x2": {"datum": {"year":2022,"month":6,"date":16,"hours":6,"minutes":8,"utc":true}},
           "y": {"datum": 1.0463, "type": "quantitative", "scale": {"domain": [1.03497, 1.06043], "nice": false, "zero": false, "padding": 0}, "axis": null},
           "y2": {"datum": 1.0518}}},
        {"data": {"values": [{}]}, "mark": {"type": "point", "shape": "triangle-up", "filled": true, "opacity": 1, "color": "#2d61a9", "size": 462, "angle": 27},
         "encoding": {
           "x": {"datum": {"year":2022,"month":6,"date":16,"hours":6,"minutes":31,"utc":true}, "type": "temporal", "scale": {"domain": [{"year":2022,"month":6,"date":13,"hours":7,"minutes":50,"utc":true},{"year":2022,"month":6,"date":16,"hours":17,"minutes":20,"seconds":20,"utc":true}], "padding": 0}, "axis": null},
           "y": {"datum": 1.05234, "type": "quantitative", "scale": {"domain": [1.03497, 1.06043], "nice": false, "zero": false, "padding": 0}, "axis": null}}},
        {"data": {"name": "levels"}, "transform": [{"filter": "datum.kind !== 'sup'"}], "mark": {"type": "point", "shape": "M-1,0L-0.79,-0.23L1,-0.23L1,0.23L-0.79,0.23Z", "filled": true, "opacity": 1, "size": 10816, "strokeWidth": 0},
         "encoding": {
           "x": {"datum": {"year":2022,"month":6,"date":16,"hours":12,"minutes":10,"utc":true}, "type": "temporal", "scale": {"domain": [{"year":2022,"month":6,"date":13,"hours":7,"minutes":50,"utc":true},{"year":2022,"month":6,"date":16,"hours":17,"minutes":20,"seconds":20,"utc":true}], "padding": 0}, "axis": null},
           "y": {"field": "v", "type": "quantitative", "scale": {"domain": [1.03497, 1.06043], "nice": false, "zero": false, "padding": 0}, "axis": null},
           "color": {"condition": [{"test": "datum.kind === 'res'", "value": "#ff0000"}, {"test": "datum.kind === 'pivot'", "value": "#1f6ff0"}], "value": "#333333"}}},
        {"data": {"name": "levels"}, "mark": {"type": "text", "align": "left", "baseline": "middle", "fontSize": 16},
         "encoding": {
           "x": {"datum": {"year":2022,"month":6,"date":16,"hours":8,"minutes":30,"utc":true}, "type": "temporal", "scale": {"domain": [{"year":2022,"month":6,"date":13,"hours":7,"minutes":50,"utc":true},{"year":2022,"month":6,"date":16,"hours":17,"minutes":20,"seconds":20,"utc":true}], "padding": 0}, "axis": null},
           "y": {"field": "v", "type": "quantitative", "scale": {"domain": [1.03497, 1.06043], "nice": false, "zero": false, "padding": 0}, "axis": null},
           "text": {"field": "label"},
           "color": {"condition": {"test": "datum.kind === 'sup'", "value": "#3a9c3a"}, "value": "#ffffff"}}},
        {"data": {"values": [{}]}, "mark": {"type": "text", "align": "left", "baseline": "middle", "fontSize": 18, "color": "#333333"},
         "encoding": {
           "x": {"datum": {"year":2022,"month":6,"date":13,"hours":9,"minutes":32,"utc":true}, "type": "temporal", "scale": {"domain": [{"year":2022,"month":6,"date":13,"hours":7,"minutes":50,"utc":true},{"year":2022,"month":6,"date":16,"hours":17,"minutes":20,"seconds":20,"utc":true}], "padding": 0}, "axis": null},
           "y": {"datum": 1.05906, "type": "quantitative", "scale": {"domain": [1.03497, 1.06043], "nice": false, "zero": false, "padding": 0}, "axis": null},
           "text": {"value": "Thursday, June 16, 2022 2:10:28 AM CET"}}},
        {"data": {"values": [{}]}, "mark": {"type": "text", "align": "right", "baseline": "middle", "fontSize": 15, "color": "#999999"},
         "encoding": {
           "x": {"datum": {"year":2022,"month":6,"date":16,"hours":16,"minutes":18,"utc":true}, "type": "temporal", "scale": {"domain": [{"year":2022,"month":6,"date":13,"hours":7,"minutes":50,"utc":true},{"year":2022,"month":6,"date":16,"hours":17,"minutes":20,"seconds":20,"utc":true}], "padding": 0}, "axis": null},
           "y": {"datum": 1.0552, "type": "quantitative", "scale": {"domain": [1.03497, 1.06043], "nice": false, "zero": false, "padding": 0}, "axis": null},
           "text": {"value": "Research © 2022 Trading Central"}}},
        {"data": {"values": []}, "mark": {"type": "point", "filled": true, "opacity": 1},
         "encoding": {
           "fill": {"datum": "MA 50", "type": "nominal", "scale": {"domain": ["MA 20 + Bollinger Bands", "MA 50"], "range": ["#ff7b7b", "#2f5c9e"]}, "legend": {"legendX": 16, "legendY": 66.5}}}}
      ]
    },
    {
      "width": 866,
      "height": 133,
      "layer": [
        {"data": {"values": [{}]}, "mark": {"type": "rule", "color": "#e9ecf0", "strokeWidth": 2.5},
         "encoding": {"y": {"datum": 110.9, "type": "quantitative", "scale": {"domain": [16.4, 113.1], "nice": false, "zero": false}, "axis": null}}},
        {"data": {"values": [{"lvl": 70}, {"lvl": 50}, {"lvl": 30}]}, "mark": {"type": "rule", "color": "#b5b5b5", "strokeWidth": 1.2, "strokeDash": [1.5, 5.5]},
         "encoding": {
           "x": {"datum": {"year":2022,"month":6,"date":13,"hours":9,"minutes":15,"utc":true}, "type": "temporal", "scale": {"domain": [{"year":2022,"month":6,"date":13,"hours":7,"minutes":50,"utc":true},{"year":2022,"month":6,"date":16,"hours":17,"minutes":20,"seconds":20,"utc":true}]},
                 "axis": {"values": [{"year":2022,"month":6,"date":14,"utc":true},{"year":2022,"month":6,"date":15,"utc":true},{"year":2022,"month":6,"date":16,"utc":true}], "labelExpr": "utcFormat(datum.value, '%b %d')", "title": null, "domain": false, "ticks": false, "grid": false, "labelFontSize": 16, "labelColor": "#777777", "labelPadding": 10, "labelFont": "Roboto"}},
           "x2": {"datum": {"year":2022,"month":6,"date":16,"hours":7,"minutes":0,"utc":true}},
           "y": {"field": "lvl", "type": "quantitative", "scale": {"domain": [16.4, 113.1], "nice": false, "zero": false}, "axis": null}}},
        {"data": {"values": [{"lvl": 70}, {"lvl": 50}, {"lvl": 30}]}, "mark": {"type": "text", "align": "left", "baseline": "middle", "fontSize": 15, "color": "#777777"},
         "encoding": {
           "x": {"datum": {"year":2022,"month":6,"date":16,"hours":8,"minutes":36,"utc":true}, "type": "temporal", "scale": {"domain": [{"year":2022,"month":6,"date":13,"hours":7,"minutes":50,"utc":true},{"year":2022,"month":6,"date":16,"hours":17,"minutes":20,"seconds":20,"utc":true}]},
                 "axis": {"values": [{"year":2022,"month":6,"date":14,"utc":true},{"year":2022,"month":6,"date":15,"utc":true},{"year":2022,"month":6,"date":16,"utc":true}], "labelExpr": "utcFormat(datum.value, '%b %d')", "title": null, "domain": false, "ticks": false, "grid": false, "labelFontSize": 16, "labelColor": "#777777", "labelPadding": 10, "labelFont": "Roboto"}},
           "y": {"field": "lvl", "type": "quantitative", "scale": {"domain": [16.4, 113.1], "nice": false, "zero": false}, "axis": null},
           "text": {"field": "lvl"}}},
        {"data": {"name": "rsi"}, "mark": {"type": "line", "color": "#7596ea", "strokeWidth": 1.2},
         "encoding": {
           "x": {"field": "t", "type": "temporal", "scale": {"domain": [{"year":2022,"month":6,"date":13,"hours":7,"minutes":50,"utc":true},{"year":2022,"month":6,"date":16,"hours":17,"minutes":20,"seconds":20,"utc":true}]},
                 "axis": {"values": [{"year":2022,"month":6,"date":14,"utc":true},{"year":2022,"month":6,"date":15,"utc":true},{"year":2022,"month":6,"date":16,"utc":true}], "labelExpr": "utcFormat(datum.value, '%b %d')", "title": null, "domain": false, "ticks": false, "grid": false, "labelFontSize": 16, "labelColor": "#777777", "labelPadding": 10, "labelFont": "Roboto"}},
           "y": {"field": "v", "type": "quantitative", "scale": {"domain": [16.4, 113.1], "nice": false, "zero": false}, "axis": null}}},
        {"data": {"name": "rsima"}, "mark": {"type": "line", "color": "#ff2a2a", "strokeWidth": 1.8, "opacity": 0.85, "interpolate": "monotone"},
         "encoding": {
           "x": {"field": "t", "type": "temporal", "scale": {"domain": [{"year":2022,"month":6,"date":13,"hours":7,"minutes":50,"utc":true},{"year":2022,"month":6,"date":16,"hours":17,"minutes":20,"seconds":20,"utc":true}]},
                 "axis": {"values": [{"year":2022,"month":6,"date":14,"utc":true},{"year":2022,"month":6,"date":15,"utc":true},{"year":2022,"month":6,"date":16,"utc":true}], "labelExpr": "utcFormat(datum.value, '%b %d')", "title": null, "domain": false, "ticks": false, "grid": false, "labelFontSize": 16, "labelColor": "#777777", "labelPadding": 10, "labelFont": "Roboto"}},
           "y": {"field": "v", "type": "quantitative", "scale": {"domain": [16.4, 113.1], "nice": false, "zero": false}, "axis": null}}},
        {"data": {"values": [{}]}, "mark": {"type": "rule", "color": "#7596ea", "strokeWidth": 1.6, "strokeDash": [2, 4]},
         "encoding": {
           "x": {"datum": {"year":2022,"month":6,"date":16,"hours":2,"minutes":5,"utc":true}, "type": "temporal", "scale": {"domain": [{"year":2022,"month":6,"date":13,"hours":7,"minutes":50,"utc":true},{"year":2022,"month":6,"date":16,"hours":17,"minutes":20,"seconds":20,"utc":true}]},
                 "axis": {"values": [{"year":2022,"month":6,"date":14,"utc":true},{"year":2022,"month":6,"date":15,"utc":true},{"year":2022,"month":6,"date":16,"utc":true}], "labelExpr": "utcFormat(datum.value, '%b %d')", "title": null, "domain": false, "ticks": false, "grid": false, "labelFontSize": 16, "labelColor": "#777777", "labelPadding": 10, "labelFont": "Roboto"}},
           "x2": {"datum": {"year":2022,"month":6,"date":16,"hours":7,"minutes":0,"utc":true}},
           "y": {"datum": 60.3, "type": "quantitative", "scale": {"domain": [16.4, 113.1], "nice": false, "zero": false}, "axis": null}}},
        {"data": {"values": [{}]}, "mark": {"type": "rule", "color": "#aaaaaa", "strokeWidth": 2},
         "encoding": {
           "x": {"datum": {"year":2022,"month":6,"date":13,"hours":9,"minutes":15,"utc":true}, "type": "temporal", "scale": {"domain": [{"year":2022,"month":6,"date":13,"hours":7,"minutes":50,"utc":true},{"year":2022,"month":6,"date":16,"hours":17,"minutes":20,"seconds":20,"utc":true}]},
                 "axis": {"values": [{"year":2022,"month":6,"date":14,"utc":true},{"year":2022,"month":6,"date":15,"utc":true},{"year":2022,"month":6,"date":16,"utc":true}], "labelExpr": "utcFormat(datum.value, '%b %d')", "title": null, "domain": false, "ticks": false, "grid": false, "labelFontSize": 16, "labelColor": "#777777", "labelPadding": 10, "labelFont": "Roboto"}},
           "x2": {"datum": {"year":2022,"month":6,"date":16,"hours":7,"minutes":11,"utc":true}},
           "y": {"datum": 16.6, "type": "quantitative", "scale": {"domain": [16.4, 113.1], "nice": false, "zero": false}, "axis": null}}},
        {"data": {"values": [{}]}, "mark": {"type": "rule", "color": "#aaaaaa", "strokeWidth": 2},
         "encoding": {
           "x": {"datum": {"year":2022,"month":6,"date":13,"hours":9,"minutes":15,"utc":true}, "type": "temporal", "scale": {"domain": [{"year":2022,"month":6,"date":13,"hours":7,"minutes":50,"utc":true},{"year":2022,"month":6,"date":16,"hours":17,"minutes":20,"seconds":20,"utc":true}]},
                 "axis": {"values": [{"year":2022,"month":6,"date":14,"utc":true},{"year":2022,"month":6,"date":15,"utc":true},{"year":2022,"month":6,"date":16,"utc":true}], "labelExpr": "utcFormat(datum.value, '%b %d')", "title": null, "domain": false, "ticks": false, "grid": false, "labelFontSize": 16, "labelColor": "#777777", "labelPadding": 10, "labelFont": "Roboto"}},
           "y": {"datum": 16.4, "type": "quantitative", "scale": {"domain": [16.4, 113.1], "nice": false, "zero": false}, "axis": null},
           "y2": {"datum": 21.6}}},
        {"data": {"values": [{}]}, "mark": {"type": "rule", "color": "#aaaaaa", "strokeWidth": 2},
         "encoding": {
           "x": {"datum": {"year":2022,"month":6,"date":16,"hours":7,"minutes":11,"utc":true}, "type": "temporal", "scale": {"domain": [{"year":2022,"month":6,"date":13,"hours":7,"minutes":50,"utc":true},{"year":2022,"month":6,"date":16,"hours":17,"minutes":20,"seconds":20,"utc":true}]},
                 "axis": {"values": [{"year":2022,"month":6,"date":14,"utc":true},{"year":2022,"month":6,"date":15,"utc":true},{"year":2022,"month":6,"date":16,"utc":true}], "labelExpr": "utcFormat(datum.value, '%b %d')", "title": null, "domain": false, "ticks": false, "grid": false, "labelFontSize": 16, "labelColor": "#777777", "labelPadding": 10, "labelFont": "Roboto"}},
           "y": {"datum": 16.4, "type": "quantitative", "scale": {"domain": [16.4, 113.1], "nice": false, "zero": false}, "axis": null},
           "y2": {"datum": 21.6}}},
        {"data": {"values": []}, "mark": {"type": "point", "filled": true, "opacity": 1},
         "encoding": {
           "fill": {"datum": "9MA", "type": "nominal", "scale": {"domain": ["RSI", "9MA"], "range": ["#6d8fe8", "#ff0000"]}, "legend": {"legendX": 16, "legendY": 17.5}}}}
      ]
    }
  ]
}
